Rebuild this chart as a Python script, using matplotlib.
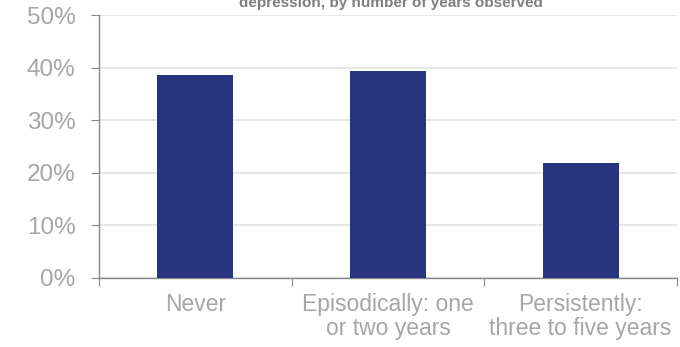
import matplotlib
matplotlib.use("Agg")
import matplotlib.pyplot as plt
from matplotlib.ticker import FixedLocator, NullFormatter, FuncFormatter

categories = ["Never", "Episodically: one\nor two years", "Persistently:\nthree to five years"]
values = [38.6, 39.4, 21.9]
yticks = [0, 10, 20, 30, 40, 50]
title = "depression, by number of years observed"

plt.rcParams['font.family'] = ['Liberation Sans', 'DejaVu Sans']

fig = plt.figure(figsize=(6.8, 3.47), dpi=100)
ax = fig.add_axes([99/680, 1-278/347, (677-99)/680, (278-15)/347])

x = list(range(len(categories)))
ax.bar(x, values, width=0.395, color="#283480", zorder=3)

ax.set_xlim(-0.5, len(categories)-0.5)
ax.set_ylim(0, 50)
ax.set_yticks(yticks)
ax.yaxis.set_major_formatter(FuncFormatter(lambda v, p: f"{v:.0f}%"))
ax.grid(axis='y', color="#e3e3e3", linewidth=1.2, zorder=0)

ax.xaxis.set_major_locator(FixedLocator([i - 0.5 for i in range(len(categories)+1)]))
ax.xaxis.set_major_formatter(NullFormatter())
ax.xaxis.set_minor_locator(FixedLocator(x))
ax.set_xticklabels(categories, minor=True, linespacing=1.05)
ax.tick_params(axis='x', which='minor', length=0, pad=11, labelsize=16.5, labelcolor="#a6a6a6")
ax.tick_params(axis='x', which='major', length=6, color="#868686", direction='out')
ax.tick_params(axis='y', length=6, color="#868686", labelsize=17.5, labelcolor="#a6a6a6", pad=11)

for s in ['top', 'right']:
    ax.spines[s].set_visible(False)
for s in ['left', 'bottom']:
    ax.spines[s].set_color("#868686")
    ax.spines[s].set_linewidth(1.0)

fig.text(391/680, 1-7/347, title, ha='center', va='baseline', fontsize=11, fontweight='bold', color="#7f7f7f")

fig.savefig("out.png", dpi=100)
